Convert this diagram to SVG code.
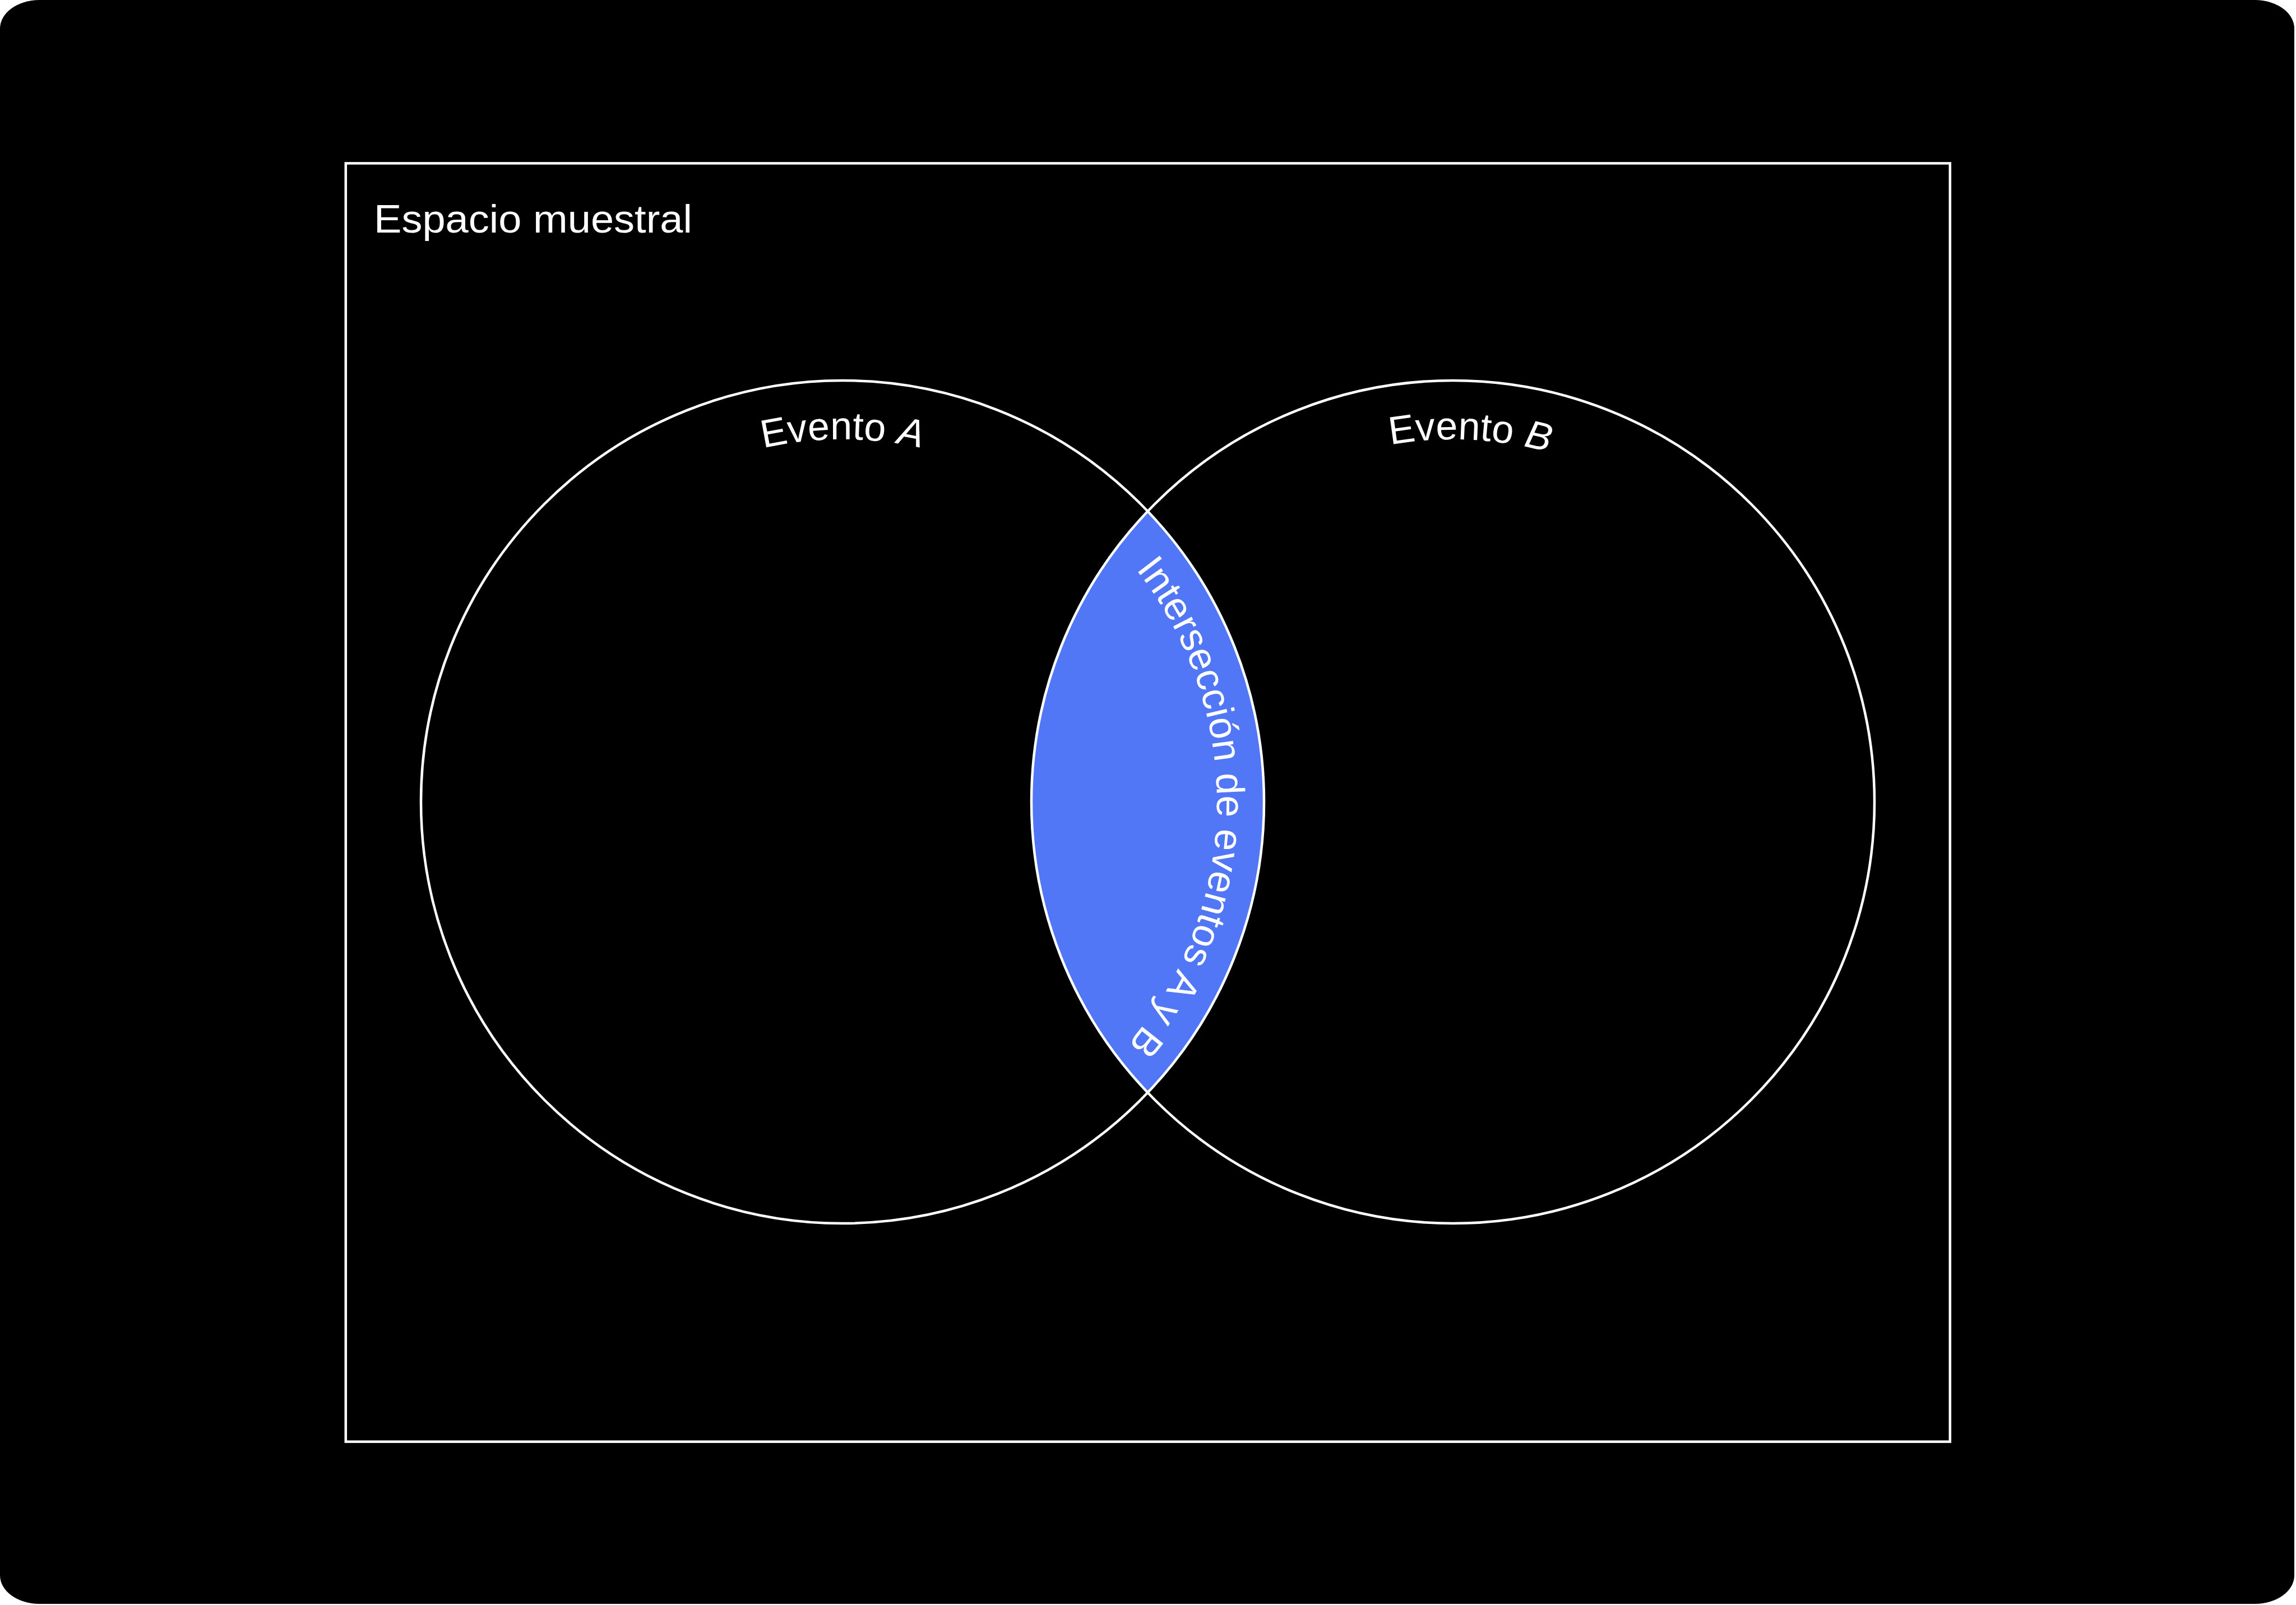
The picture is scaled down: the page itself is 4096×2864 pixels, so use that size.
<svg xmlns="http://www.w3.org/2000/svg" width="4096" height="2864" viewBox="0 0 4096 2864">
  <style>
    .outline { fill: none; stroke: #ffffff; stroke-width: 4.5; }
    .label { fill: #ffffff; font-family: "Liberation Sans", Arial, sans-serif; font-size: 70px; }
    .it { font-style: italic; }
  </style>
  <defs>
    <path id="pathA" d="M 942.7 1107.5 A 647 647 0 0 1 2063.3 1107.5"/>
    <path id="pathB" d="M 2047.5 1081.5 A 647 647 0 0 1 3166.9 1134.3"/>
    <path id="pathI" d="M 1847 858.4 A 668 668 0 0 1 1826.9 2015.2"/>
  </defs>
  <rect x="0" y="0" width="4096" height="2864" fill="#ffffff"/>
  <rect id="background" x="0" y="0" width="4093" height="2862" rx="70" ry="51" fill="#000000"/>
  <g id="sample-space">
    <rect class="outline" x="616.8" y="291.4" width="2862" height="2281.2"/>
    <text class="label" x="667" y="415" font-size="72" textLength="568" lengthAdjust="spacingAndGlyphs">Espacio muestral</text>
  </g>
  <g id="intersection">
    <path d="M 2047.5 912.3 A 752 752 0 0 0 2047.5 1949.7 A 752 752 0 0 0 2047.5 912.3 Z" fill="#5177F7"/>
  </g>
  <g id="event-a">
    <circle class="outline" cx="1503" cy="1431" r="752"/>
    <text class="label"><textPath href="#pathA" startOffset="535">Evento</textPath></text>
    <text class="label it"><textPath href="#pathA" startOffset="773">A</textPath></text>
  </g>
  <g id="event-b">
    <circle class="outline" cx="2592" cy="1431" r="752"/>
    <text class="label"><textPath href="#pathB" startOffset="535">Evento</textPath></text>
    <text class="label it"><textPath href="#pathB" startOffset="773">B</textPath></text>
  </g>
  <g id="intersection-label">
    <text class="label"><textPath href="#pathI" startOffset="50%" text-anchor="middle">Intersección de eventos A y B</textPath></text>
  </g>
</svg>
